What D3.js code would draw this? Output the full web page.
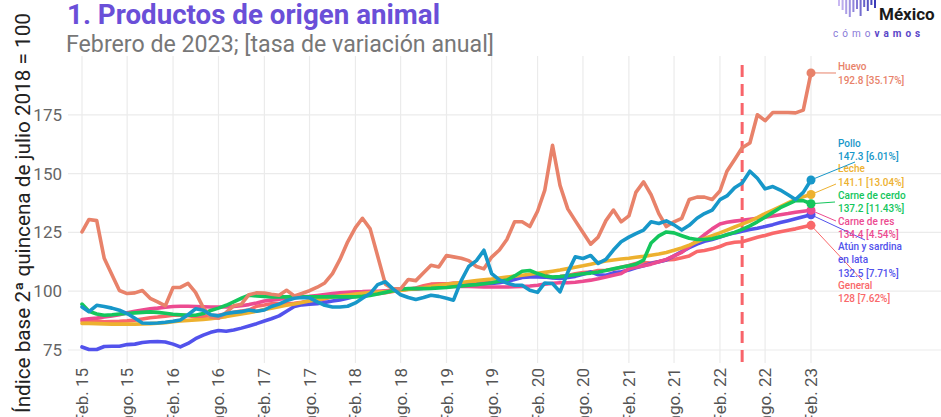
<!DOCTYPE html>
<html>
<head>
<meta charset="utf-8">
<script src="https://cdn.jsdelivr.net/npm/d3@7"></script>
<style>
  body { margin: 0; background: #fff; }
  svg { display: block; }
  text { font-family: Roboto, "Open Sans", sans-serif; }
</style>
</head>
<body>
<div id="chart"></div>
<script>
// Monthly index values, Feb 2015 - Feb 2023 (base 2a quincena jul 2018 = 100)
var huevo = [125.2, 130.5, 130, 114, 107, 100.3, 99, 99.3, 100.3, 97, 95.5, 93.8,
  101.6, 101.6, 103.3, 99.5, 93, 89, 88.5, 91, 93.8, 94.5, 98.5, 99.3,
  99.2, 98.7, 98.3, 100.4, 98, 99, 100.2, 101.7, 103.5, 107.5, 113.5, 121,
  127, 131, 126.5, 115, 103, 101, 101, 105, 104.5, 107.8, 111, 110.3,
  115.2, 114.6, 114, 113, 110.5, 109.5, 114.5, 117.5, 122, 129.5, 129.5, 127.5,
  134, 143, 162, 145, 135, 130, 125, 120, 123, 130, 134.5, 129.5,
  132, 142, 146.5, 141, 133, 127.5, 129.5, 131, 139, 140, 140, 139,
  142.6, 151, 156, 161, 163, 175, 172.5, 176, 176, 176, 175.8, 177,
  192.8];
var pollo = [93.3, 91.3, 94, 93.5, 92.8, 91.9, 90.5, 88.5, 86.5, 86.4, 86.5, 86.8,
  87.2, 87.8, 90, 92.5, 91.9, 90, 89.5, 90.5, 91, 91.3, 92, 91.5,
  92, 93.5, 94.5, 96, 97, 97.3, 97.2, 95.5, 94, 93.3, 93.3, 93.6,
  95, 97, 99, 102.8, 104, 101, 98.5, 97.3, 96.5, 97.3, 98.3, 97.8,
  97, 96.2, 104.5, 110.5, 113, 117.4, 107.5, 104.8, 103.5, 102.5, 102.5, 100.4,
  99.5, 103.5, 103.3, 99.7, 108, 114.6, 113.9, 115.2, 111.8, 113.5, 117.5, 121,
  123, 124.5, 126, 129.5, 128.8, 129.9, 128.2, 126, 128, 131, 133, 134.5,
  138.9, 140.5, 144, 146, 151, 148, 143.5, 144.5, 143, 141, 139, 142,
  147.3];
var leche = [86.3, 86.3, 86.2, 86.1, 86, 86, 86, 86, 86.1, 86.2, 86.4, 86.6,
  87, 87.3, 87.6, 87.8, 88, 88.3, 88.7, 89.2, 89.8, 90.3, 90.8, 91.5,
  92.2, 92.8, 93.4, 94, 94.6, 95.2, 95.8, 96.4, 97, 97.5, 98, 98.4,
  98.8, 99.1, 99.4, 99.6, 99.8, 100, 100.3, 100.7, 101.1, 101.5, 102, 102.5,
  102.9, 103.3, 103.7, 104.1, 104.5, 104.9, 105.2, 105.6, 106, 106.4, 106.8, 107.2,
  107.6, 108, 108.5, 109, 109.6, 110.2, 110.8, 111.5, 112.2, 112.8, 113.3, 113.7,
  114, 114.4, 114.8, 115.3, 115.8, 116.5, 117.4, 118.4, 119.6, 121, 122.4, 123.6,
  124.8, 126, 127.3, 128.5, 129.8, 131.3, 133, 134.5, 136, 137.5, 139, 140.2,
  141.1];
var cerdo = [94.5, 91.5, 90.3, 89.8, 90, 90.3, 90.5, 90.8, 91, 91.2, 91, 90.6,
  90.2, 90, 89.8, 89.8, 90.5, 91.8, 92.8, 94, 95.5, 97, 98.3, 98,
  97.8, 97.6, 97.6, 97.6, 97.7, 97.6, 97.6, 97.6, 97.6, 97.7, 97.6, 97.6,
  97.6, 97.8, 98.2, 98.8, 99.5, 100.2, 100.8, 101.1, 101.1, 101.1, 101.2, 101.4,
  101.6, 101.9, 102.2, 102.5, 102.8, 103.2, 103.6, 104.2, 104.7, 106.5, 108.5, 108.8,
  107.5, 106.5, 106, 106.2, 106.6, 107, 107.4, 107.7, 108.2, 108.8, 109.5, 110.2,
  110.8, 111.5, 113.2, 120.5, 123.5, 125.2, 124.8, 123.6, 122.5, 122, 122, 122.3,
  123.1, 124, 125, 126.3, 127.8, 129.5, 131.5, 133.5, 135.5, 137, 138.5, 138.5,
  137.2];
var res = [88, 88.3, 88.6, 89, 89.5, 90, 90.8, 91.5, 92, 92.5, 92.8, 93.2,
  93.5, 93.6, 93.6, 93.5, 93.4, 93.3, 93.3, 93.3, 93.5, 93.8, 94.3, 95,
  95.8, 96.2, 96.6, 97, 97.4, 97.6, 97.8, 98.2, 98.6, 99, 99.3, 99.5,
  99.7, 99.8, 100, 100, 100.2, 100.4, 100.6, 100.8, 101, 101.3, 101.6, 101.8,
  102, 102, 102, 102, 101.9, 101.8, 101.8, 101.8, 101.8, 101.9, 102, 102.2,
  102.5, 103, 103.4, 103.6, 103.6, 103.8, 104.2, 104.7, 105.3, 106, 106.8, 107.5,
  109.5, 110.2, 110.8, 111.5, 112.5, 113.5, 115, 116.5, 119, 121.5, 124, 126.5,
  128.6, 129.3, 129.8, 130.2, 130.6, 131, 131.5, 132, 132.5, 133, 133.6, 134,
  134.4];
var atun = [76.3, 75.2, 75.2, 76.5, 76.6, 76.6, 77.3, 77.5, 78.2, 78.5, 78.6, 78.4,
  77.5, 76.3, 77.8, 79.8, 81.3, 82.5, 83.3, 83, 83.5, 84.3, 85.2, 86.2,
  87.3, 88.3, 89.5, 91.5, 93.5, 94.2, 94.5, 94.7, 95.2, 95.8, 96.3, 97,
  97.8, 98.5, 99, 99.5, 100, 100.3, 100.6, 100.9, 101.1, 101.3, 101.5, 101.7,
  101.9, 102.1, 102.3, 102.5, 102.7, 103, 103.3, 103.6, 104.2, 105, 105.8, 106.1,
  106.1, 106, 105.6, 105.4, 105.8, 106.3, 107.2, 108.2, 107, 106.8, 107.8, 108.3,
  109, 110, 110.8, 111.8, 112.5, 113.3, 115, 116.8, 118.5, 120, 121.2, 122,
  123, 124, 124.8, 125.5, 126.2, 126.8, 127.5, 128.3, 129.2, 130, 130.8, 131.7,
  132.5];
var general = [87.3, 87.6, 87.4, 87, 87.1, 87.2, 87.4, 87.7, 88.2, 88.7, 89,
  89.4, 89.8, 89.9, 89.6, 89.2, 89.3, 89.6, 89.8, 90.4, 91, 91.6, 92,
  93.6, 94.1, 94.7, 94.8, 94.7, 94.9, 95.3, 95.9, 96.1, 96.7, 97.7, 98.3,
  98.8, 99.2, 99.5, 99.2, 98.9, 99.4, 99.9, 100.5, 100.9, 101.4, 102.3, 103,
  103.1, 103.1, 103.5, 103.5, 103.2, 103.3, 103.7, 103.7, 104, 104.5, 105.3, 105.9,
  106.4, 106.9, 106.8, 105.8, 106.2, 106.7, 107.4, 107.9, 108.1, 108.8, 108.9, 109.3,
  110.2, 110.9, 111.8, 112.2, 112, 112.6, 113.3, 113.5, 114.2, 115, 116.9, 117.3,
  118, 119, 120.2, 120.8, 121, 122, 122.9, 123.7, 124.6, 125.3, 125.9, 126.5,
  127.3, 128];

var seriesNames = ["General", "Atún y sardina en lata", "Carne de res", "Leche", "Carne de cerdo", "Huevo", "Pollo"];
var seriesValues = [general, atun, res, leche, cerdo, huevo, pollo];
var seriesColors = ["#f9686a", "#5252ec", "#ec4b90", "#edb12f", "#14c65c", "#e8826a", "#1797c9"];
var labelLines = [["General"], ["Atún y sardina", "en lata"], ["Carne de res"], ["Leche"], ["Carne de cerdo"], ["Huevo"], ["Pollo"]];
var annualPct = ["7.62", "7.71", "4.54", "13.04", "11.43", "35.17", "6.01"];

var yTicks = [75, 100, 125, 150, 175];
var markerMonth = new Date(2022, 4, 1); // dashed reference line

var months = huevo.map(function(d, i) { return new Date(2015, 1 + i, 1); });
var xTicks = months.filter(function(d, i) { return i % 6 === 0; });
function tickLabel(d) {
  var yy = String(d.getFullYear()).slice(2);
  return (d.getMonth() === 1 ? "Feb. " : "ago. ") + yy;
}

// Set up the SVG
var svgWidth = 941;
var svgHeight = 417;
var plotLeft = 68, plotRight = 941, plotTop = 56, plotBottom = 363;

var svg = d3.select("#chart")
  .append("svg")
  .attr("width", svgWidth)
  .attr("height", svgHeight);

var x = d3.scaleTime().domain([months[0], months[months.length - 1]]).range([82, 811]);
var y = d3.scaleLinear().domain([75, 175]).range([350, 114.8]);

// grid
svg.append("g").selectAll("line")
  .data(yTicks).enter().append("line")
  .attr("x1", plotLeft).attr("x2", plotRight)
  .attr("y1", d => y(d)).attr("y2", d => y(d))
  .attr("stroke", "#ebebeb").attr("stroke-width", 1.2);

svg.append("g").selectAll("line")
  .data(xTicks).enter().append("line")
  .attr("x1", d => x(d)).attr("x2", d => x(d))
  .attr("y1", plotTop).attr("y2", plotBottom)
  .attr("stroke", "#ebebeb").attr("stroke-width", 1.2);

// axes labels
svg.append("g").selectAll("text")
  .data(yTicks).enter().append("text")
  .attr("x", 62).attr("y", d => y(d))
  .attr("dy", "0.35em")
  .attr("text-anchor", "end")
  .attr("fill", "#666")
  .style("font-size", "17px")
  .text(d => d);

svg.append("g").selectAll("text")
  .data(xTicks).enter().append("text")
  .attr("transform", d => `translate(${x(d) + 6}, 368) rotate(-90)`)
  .attr("text-anchor", "end")
  .attr("fill", "#555")
  .style("font-size", "17px")
  .text(tickLabel);

svg.append("text")
  .attr("transform", "translate(30, 213) rotate(-90)")
  .attr("text-anchor", "middle")
  .attr("fill", "#222")
  .style("font-size", "20px")
  .attr("textLength", 400)
  .attr("lengthAdjust", "spacingAndGlyphs")
  .text("Índice base 2ª quincena de julio 2018 = 100");

// dashed reference line
svg.append("line")
  .attr("x1", x(markerMonth)).attr("x2", x(markerMonth))
  .attr("y1", 65).attr("y2", plotBottom)
  .attr("stroke", "#f8646a").attr("stroke-width", 3)
  .attr("stroke-dasharray", "12,7");

// lines
var line = d3.line()
  .x((d, i) => x(months[i]))
  .y(d => y(d));

svg.append("g").selectAll("path")
  .data(seriesValues).enter().append("path")
  .attr("d", line)
  .attr("fill", "none")
  .attr("stroke", (d, i) => seriesColors[i])
  .attr("stroke-width", 3.6)
  .attr("stroke-linejoin", "round")
  .attr("stroke-linecap", "round");

// end labels
var labelX = 838;
var labelBase = [288.5, 249.5, 224.5, 172, 198.5, 70, 146.5];
var leaderEnd = [[862, 280], [865, 240], [836, 221], [836, 184], [835, 202], [836, 73], [855, 162]];
var drawOrder = [0, 1, 2, 3, 4, 5, 6];

drawOrder.forEach(function(k) {
  var vals = seriesValues[k];
  var last = vals[vals.length - 1];
  var px = x(months[vals.length - 1]), py = y(last);
  svg.append("line")
    .attr("x1", px).attr("y1", py)
    .attr("x2", leaderEnd[k][0]).attr("y2", leaderEnd[k][1])
    .attr("stroke", seriesColors[k]).attr("stroke-width", 1);
  svg.append("circle")
    .attr("cx", px).attr("cy", py).attr("r", 4.5)
    .attr("fill", seriesColors[k]);
  var t = svg.append("text")
    .attr("x", labelX).attr("y", labelBase[k])
    .attr("fill", seriesColors[k])
    .style("font-size", "10px")
    .style("font-weight", 500);
  var lines = labelLines[k].concat([last + " [" + annualPct[k] + "%]"]);
  lines.forEach(function(s, j) {
    t.append("tspan").attr("x", labelX).attr("dy", j === 0 ? 0 : 13.5).text(s);
  });
});

// title
svg.append("text")
  .attr("x", 67).attr("y", 24)
  .attr("fill", "#6a4fd8")
  .style("font-size", "28px")
  .style("font-weight", 700)
  .attr("textLength", 373)
  .attr("lengthAdjust", "spacingAndGlyphs")
  .text("1. Productos de origen animal");

svg.append("text")
  .attr("x", 66).attr("y", 52)
  .attr("fill", "#777")
  .style("font-size", "23px")
  .attr("textLength", 428)
  .attr("lengthAdjust", "spacingAndGlyphs")
  .text("Febrero de 2023; [tasa de variación anual]");

// logo
var logoBars = [6, 10, 14, 17, 12, 9, 16, 7, 11, 5, 8];
var logo = svg.append("g").attr("transform", "translate(838, 0)");
logo.selectAll("rect")
  .data(logoBars).enter().append("rect")
  .attr("x", (d, i) => i * 3.6)
  .attr("y", 0)
  .attr("width", 2)
  .attr("height", d => d)
  .attr("fill", (d, i) => d3.interpolateRgb("#c9b8f2", "#3b3bb8")(i / (logoBars.length - 1)));
svg.append("text")
  .attr("x", 879).attr("y", 20)
  .attr("fill", "#1a1a1a")
  .style("font-size", "17px")
  .style("font-weight", 700)
  .text("México");
var cv = svg.append("text")
  .attr("x", 833).attr("y", 37)
  .style("font-size", "10px")
  .style("letter-spacing", "4px");
cv.append("tspan").attr("fill", "#8a7ad8").text("cómo");
cv.append("tspan").attr("fill", "#5a46c8").style("font-weight", 700).text("vamos");
</script>
</body>
</html>
